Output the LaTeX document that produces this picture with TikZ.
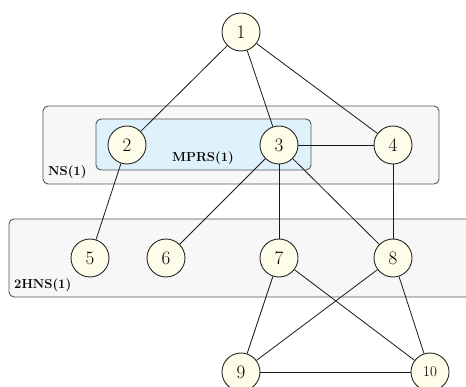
\documentclass[tikz,border=0pt]{standalone}
\usepackage{tikz}
\definecolor{nodefill}{HTML}{FEFDE9}
\definecolor{groupfill}{HTML}{F7F7F7}
\definecolor{mprsfill}{HTML}{DFF1FA}
\definecolor{boxline}{HTML}{555555}
\tikzset{
  vertex/.style={circle, draw=black!85, line width=0.9pt, fill=nodefill, minimum size=38pt, inner sep=0pt, font=\fontsize{19}{19}\selectfont},
  smallvertex/.style={vertex, font=\fontsize{15}{15}\selectfont},
  groupbox/.style={draw=boxline, line width=0.9pt, fill=groupfill, rounded corners=5pt},
  mprsbox/.style={draw=boxline, line width=0.9pt, fill=mprsfill, rounded corners=5pt},
  grouplabel/.style={font=\fontsize{13}{13}\selectfont\bfseries, inner sep=0pt},
  edge/.style={draw=black!90, line width=0.8pt}
}
\begin{document}
\begin{tikzpicture}[x=1pt,y=-1pt]
\useasboundingbox (0,0) rectangle (466,387);
\clip (0,0) rectangle (466,387);
% group boxes
\node[groupbox, minimum width=396pt, minimum height=78pt, inner sep=0pt] (nsbox) at (241,145) {};
\node[mprsbox, minimum width=215pt, minimum height=51pt, inner sep=0pt] (mprsbox) at (203.5,144.5) {};
\node[groupbox, minimum width=480pt, minimum height=78pt, inner sep=0pt] (hnsbox) at (249,258) {};
\node[grouplabel, anchor=west] (nslabel) at (48,172) {NS(1)};
\node[grouplabel] (mprslabel) at (203,158) {MPRS(1)};
\node[grouplabel, anchor=west] (hnslabel) at (14,285) {2HNS(1)};
% vertices
\node[vertex] (n1) at (241,32) {1};
\node[vertex] (n2) at (127,145) {2};
\node[vertex] (n3) at (279,145) {3};
\node[vertex] (n4) at (393,145) {4};
\node[vertex] (n5) at (90,258) {5};
\node[vertex] (n6) at (166,258) {6};
\node[vertex] (n7) at (279,258) {7};
\node[vertex] (n8) at (393,258) {8};
\node[vertex] (n9) at (241,372) {9};
\node[smallvertex] (n10) at (430,372) {10};
% edges
\begin{scope}[on background layer/.style={}]
\end{scope}
\draw[edge] (n1) -- (n2);
\draw[edge] (n1) -- (n3);
\draw[edge] (n1) -- (n4);
\draw[edge] (n3) -- (n4);
\draw[edge] (n2) -- (n5);
\draw[edge] (n3) -- (n6);
\draw[edge] (n3) -- (n7);
\draw[edge] (n3) -- (n8);
\draw[edge] (n4) -- (n8);
\draw[edge] (n7) -- (n9);
\draw[edge] (n7) -- (n10);
\draw[edge] (n8) -- (n9);
\draw[edge] (n8) -- (n10);
\draw[edge] (n9) -- (n10);
\end{tikzpicture}
\end{document}
